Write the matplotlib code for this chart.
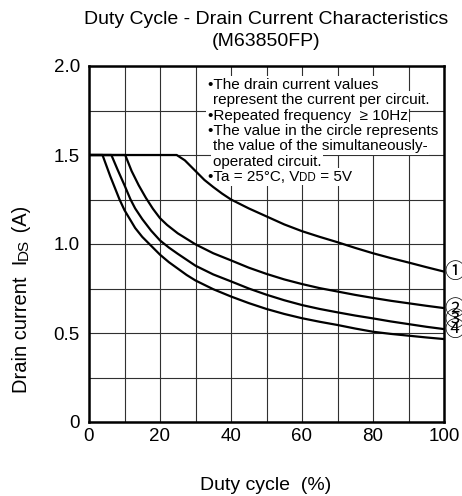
import matplotlib.pyplot as plt
from matplotlib.ticker import MultipleLocator

plt.rcParams['font.family'] = ['Liberation Sans', 'DejaVu Sans', 'Noto Sans CJK JP']

# curves (duty %, drain current A)
duty_1 = [0, 24.7, 27, 30, 32.5, 35, 37.5, 40, 45, 50, 55, 60, 65, 70, 75, 80, 85, 90, 95, 100]
current_1 = [1.5, 1.5, 1.47, 1.41, 1.36, 1.32, 1.283, 1.25, 1.20, 1.155, 1.11, 1.072, 1.04,
             1.01, 0.978, 0.948, 0.921, 0.896, 0.87, 0.845]

duty_2 = [0, 10.2, 12, 14, 16, 18, 20, 22, 25, 30, 35, 40, 45, 50, 55, 60, 65, 70, 75, 80,
          85, 90, 95, 100]
current_2 = [1.5, 1.5, 1.41, 1.33, 1.26, 1.198, 1.145, 1.107, 1.06, 0.998, 0.948, 0.908,
             0.867, 0.832, 0.801, 0.775, 0.752, 0.733, 0.714, 0.697, 0.681, 0.667, 0.653, 0.64]

duty_3 = [0, 6.3, 8, 10, 11.7, 13, 15, 17.5, 20, 22.5, 25, 30, 35, 40, 45, 50, 55, 60, 65,
          70, 75, 80, 85, 90, 95, 100]
current_3 = [1.5, 1.5, 1.42, 1.33, 1.25, 1.20, 1.14, 1.075, 1.02, 0.98, 0.945, 0.878, 0.829,
             0.79, 0.75, 0.715, 0.684, 0.657, 0.635, 0.616, 0.598, 0.582, 0.565, 0.55, 0.535,
             0.522]

duty_4 = [0, 3.8, 6, 8.6, 10, 13, 15, 17, 20, 22.5, 25, 27.5, 30, 35, 40, 45, 50, 55, 60,
          65, 70, 75, 80, 85, 90, 95, 100]
current_4 = [1.5, 1.5, 1.38, 1.25, 1.19, 1.09, 1.04, 1.0, 0.94, 0.898, 0.862, 0.826, 0.795,
             0.746, 0.705, 0.668, 0.635, 0.607, 0.583, 0.563, 0.545, 0.525, 0.507, 0.495,
             0.485, 0.475, 0.466]

circle_labels = ['①', '②', '③', '④']
x_ticks = [0, 20, 40, 60, 80, 100]
y_ticks = [0, 0.5, 1.0, 1.5, 2.0]
y_tick_labels = ['0', '0.5', '1.0', '1.5', '2.0']

note_lines = [
    '•The drain current values',
    'represent the current per circuit.',
    '•Repeated frequency  \u2265 10Hz',
    '•The value in the circle represents',
    'the value of the simultaneously-',
    'operated circuit.',
]
ta_parts = [('•Ta = 25°C, V', 11), ('DD', 8.3), (' = 5V', 11)]


def chain_text(ax, x, y, parts, **kw):
    prev = ax.text(x, y, parts[0][0], fontsize=parts[0][1], transform=ax.transData,
                   ha='left', va='center', **kw)
    for s, fs in parts[1:]:
        prev = ax.annotate(s, xy=(1, 0), xycoords=prev, ha='left', va='bottom',
                           fontsize=fs, annotation_clip=False, **kw)
    return prev


fig = plt.figure(figsize=(4.62, 4.96), dpi=100)
ax = fig.add_axes([89 / 462, 1 - 422 / 496, 355 / 462, 356 / 496])

for d, c in [(duty_1, current_1), (duty_2, current_2), (duty_3, current_3), (duty_4, current_4)]:
    ax.plot(d, c, color='black', lw=1.6, zorder=2, solid_joinstyle='round')

ax.set_xlim(0, 100)
ax.set_ylim(0, 2.0)
ax.set_xticks(x_ticks)
ax.set_yticks(y_ticks)
ax.set_yticklabels(y_tick_labels)
ax.xaxis.set_minor_locator(MultipleLocator(10))
ax.yaxis.set_minor_locator(MultipleLocator(0.25))
ax.grid(True, which='both', color='#303030', lw=0.8, zorder=1)
ax.set_axisbelow(True)
ax.tick_params(which='both', length=0, labelsize=13.5)
ax.tick_params(axis='y', pad=6.5)
ax.tick_params(axis='x', pad=4.5)
for sp in ax.spines.values():
    sp.set_linewidth(1.8)
    sp.set_zorder(5)

# note block: white patches hide the grid (below the curves), text drawn on top
line_y = [1.893, 1.809, 1.719, 1.635, 1.551, 1.461]
line_x = [33.4, 34.8, 33.4, 33.4, 34.8, 34.8]
box = dict(boxstyle='square,pad=0.12', fc='white', ec='none')
for s, x, y in zip(note_lines, line_x, line_y):
    ax.text(x, y, s, fontsize=11, ha='left', va='center', color='none', bbox=box, zorder=1.5)
    ax.text(x, y, s, fontsize=11, ha='left', va='center', zorder=4)
chain_text(ax, 33.4, 1.376, ta_parts, color='none', bbox=box, zorder=1.5)
chain_text(ax, 33.4, 1.376, ta_parts, color='black', zorder=4)

# circled circuit counts at the right edge
label_y = [0.843, 0.635, 0.573, 0.517]
for s, y in zip(circle_labels, label_y):
    ax.text(102.9, y, s, fontsize=15, family='Noto Sans CJK JP', ha='center', va='center',
            clip_on=False)

fig.text(0.576, 1 - 20 / 496, 'Duty Cycle - Drain Current Characteristics',
         fontsize=14, ha='center', va='center')
fig.text(0.576, 1 - 42 / 496, '(M63850FP)', fontsize=14, ha='center', va='center')
fig.text(0.576, 1 - 485 / 496, 'Duty cycle  (%)', fontsize=14, ha='center', va='center')

ylab = fig.text(27 / 462, 1 - 393 / 496, 'Drain current  I', fontsize=14.5, rotation=90,
                rotation_mode='anchor', ha='left', va='baseline')
p2 = ax.annotate('DS', xy=(1, 1), xycoords=ylab, rotation=90, ha='right', va='bottom',
                 fontsize=11, annotation_clip=False)
ax.annotate(' (A)', xy=(1, 1), xycoords=p2, rotation=90, ha='right', va='bottom',
            fontsize=14.5, annotation_clip=False)

fig.savefig('out.png', dpi=100)
